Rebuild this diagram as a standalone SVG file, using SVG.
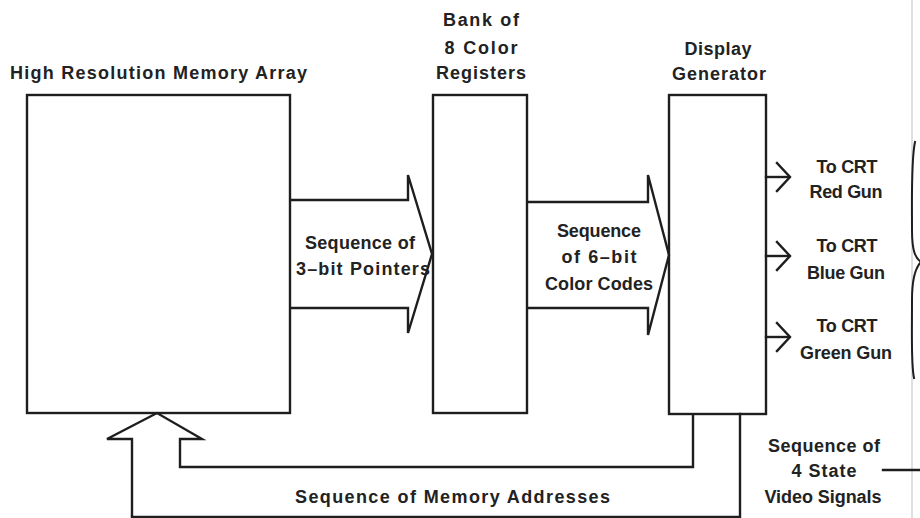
<svg xmlns="http://www.w3.org/2000/svg" width="920" height="518" viewBox="0 0 920 518">
  <style>
    .ln { fill: none; stroke: #1e1e1e; stroke-width: 2.4; stroke-linejoin: miter; stroke-linecap: square; }
    .box { fill: none; stroke: #1e1e1e; stroke-width: 2.4; }
    .fat { fill: none; stroke: #1e1e1e; stroke-width: 2.4; stroke-linejoin: miter; }
    text { font-family: "Liberation Sans", Arial, sans-serif; font-weight: bold; font-size: 18px; fill: #222222; }
    .c { text-anchor: middle; }
  </style>
  <defs>
    <path id="chev" d="M-13,-14 L0,0 L-13,14" />
  </defs>

  <rect width="920" height="518" fill="#ffffff" />
  <!-- page edge -->
  <line x1="912" y1="0" x2="912" y2="518" stroke="#d4d4d4" stroke-width="1.5" />

  <g id="memory-array">
    <text x="10" y="79" textLength="297" lengthAdjust="spacing">High Resolution Memory Array</text>
    <rect class="box" x="27" y="95" width="263" height="318" />
  </g>

  <g id="color-registers">
    <text class="c" x="481" y="26" textLength="76" lengthAdjust="spacing">Bank of</text>
    <text class="c" x="481" y="54" textLength="73" lengthAdjust="spacing">8 Color</text>
    <text class="c" x="481" y="79" textLength="90" lengthAdjust="spacing">Registers</text>
    <rect class="box" x="433" y="95" width="94" height="318" />
  </g>

  <g id="display-generator">
    <text class="c" x="718" y="55" textLength="67" lengthAdjust="spacing">Display</text>
    <text class="c" x="719" y="80" textLength="94" lengthAdjust="spacing">Generator</text>
    <rect class="box" x="669" y="95" width="97" height="319" />
  </g>

  <g id="connectors">
    <!-- wide arrow: memory array to registers -->
    <path class="fat" d="M290,200 L408,200 L408,175 L432,254 L408,333 L408,308 L290,308" />
    <!-- wide arrow: registers to display generator -->
    <path class="fat" d="M527,202 L648,202 L648,175 L669,255 L648,335 L648,308 L527,308" />
    <!-- address feedback into memory array -->
    <path class="fat" d="M132,517 L132,439 L107,439 L157,413 L202,439 L180,439 L180,467 L693,467 L693,414" />
    <path class="ln" d="M132,517 L740,517 L740,414" />
    <!-- CRT outputs -->
    <g class="ln">
      <line x1="766" y1="177" x2="789" y2="177" />
      <use href="#chev" x="790" y="177" />
      <line x1="766" y1="256" x2="789" y2="256" />
      <use href="#chev" x="790" y="256" />
      <line x1="766" y1="337" x2="789" y2="337" />
      <use href="#chev" x="790" y="337" />
    </g>
    <!-- brace and leader -->
    <path class="ln" style="stroke-width:2" d="M915,142 C911,160 912,200 912,230 C912,250 915,258 921,262 C915,268 912,280 912,300 C912,340 911,365 914,378" />
    <line class="ln" x1="883" y1="470" x2="920" y2="470" />
  </g>

  <g id="labels">
    <text class="c" x="360" y="249" textLength="110" lengthAdjust="spacing">Sequence of</text>
    <text class="c" x="363" y="275" textLength="134" lengthAdjust="spacing">3–bit Pointers</text>
    <text class="c" x="599" y="237" textLength="84" lengthAdjust="spacing">Sequence</text>
    <text class="c" x="599" y="263" textLength="75" lengthAdjust="spacing">of 6–bit</text>
    <text class="c" x="599" y="290" textLength="108" lengthAdjust="spacing">Color Codes</text>

    <text class="c" x="847" y="173" textLength="61" lengthAdjust="spacing">To CRT</text>
    <text class="c" x="846" y="198" textLength="73" lengthAdjust="spacing">Red Gun</text>
    <text class="c" x="847" y="252" textLength="61" lengthAdjust="spacing">To CRT</text>
    <text class="c" x="846" y="279" textLength="78" lengthAdjust="spacing">Blue Gun</text>
    <text class="c" x="847" y="332" textLength="61" lengthAdjust="spacing">To CRT</text>
    <text class="c" x="846" y="359" textLength="92" lengthAdjust="spacing">Green Gun</text>

    <text class="c" x="824" y="452" textLength="112" lengthAdjust="spacing">Sequence of</text>
    <text class="c" x="824" y="477" textLength="65" lengthAdjust="spacing">4 State</text>
    <text class="c" x="823" y="503" textLength="117" lengthAdjust="spacing">Video Signals</text>

    <text x="295" y="503" textLength="315" lengthAdjust="spacing">Sequence of Memory Addresses</text>
  </g>
</svg>
